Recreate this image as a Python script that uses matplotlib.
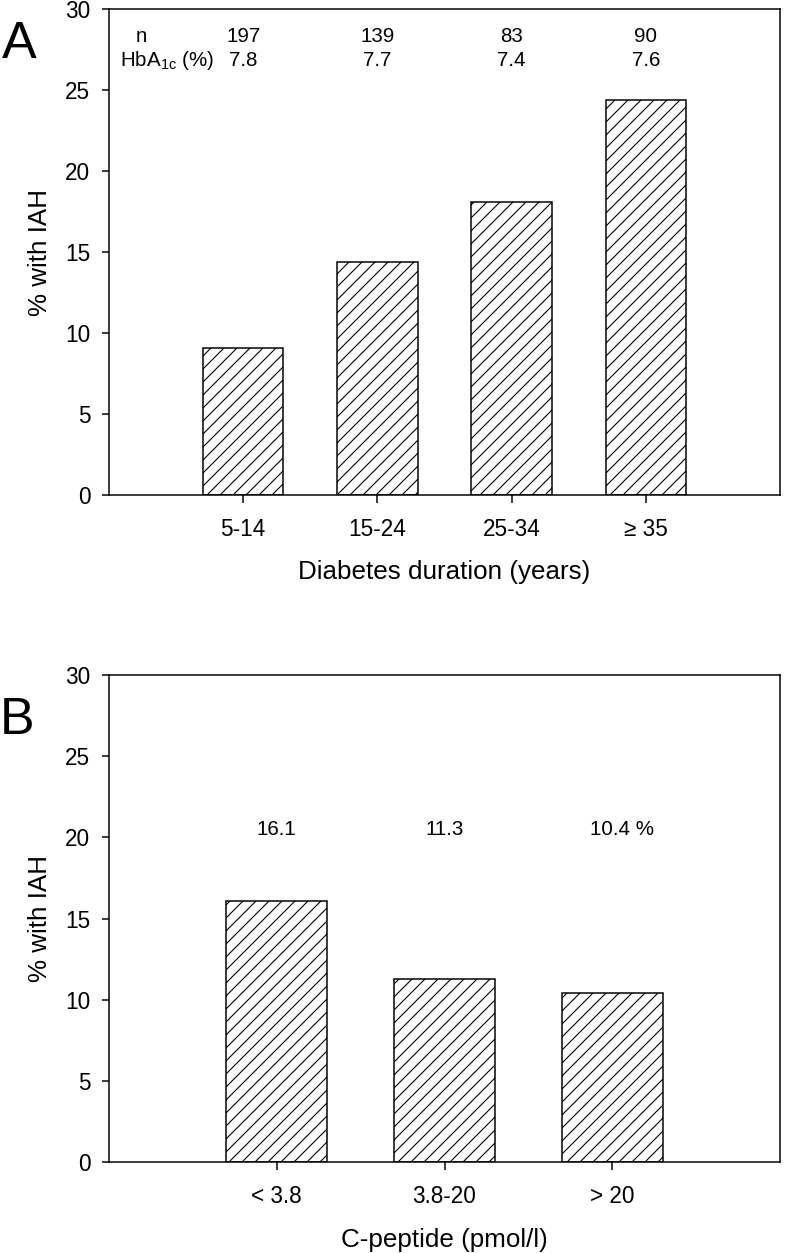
import matplotlib
matplotlib.use("Agg")
import matplotlib.pyplot as plt
import numpy as np

# panel A data
duration_cats = ["5-14", "15-24", "25-34", "\u2265 35"]
duration_iah = [9.1, 14.4, 18.1, 24.4]
duration_n = ["197", "139", "83", "90"]
duration_hba1c = ["7.8", "7.7", "7.4", "7.6"]

# panel B data
cpep_cats = ["< 3.8", "3.8-20", "> 20"]
cpep_iah = [16.1, 11.3, 10.4]
cpep_labels = ["16.1", "11.3", "10.4 %"]

DPI = 78  # low dpi so the hatch spacing matches the reference
W, H = 787, 1253


def pt(px):
    # convert pixels to points at this dpi
    return px * 72.0 / DPI


plt.rcParams['font.family'] = ['Liberation Sans', 'DejaVu Sans']
plt.rcParams['hatch.linewidth'] = pt(1.1)
plt.rcParams['hatch.color'] = 'black'

fig = plt.figure(figsize=(W / DPI, H / DPI), dpi=DPI)

tick_fs = pt(22.5)
note_fs = pt(20.5)
label_fs = pt(26)


def style_axes(ax, cats):
    ax.set_ylim(0, 30)
    ax.set_xlim(0, len(cats) + 1)
    ax.set_yticks(np.arange(0, 31, 5))
    ax.set_xticks(np.arange(1, len(cats) + 1))
    ax.set_xticklabels(cats)
    for s in ax.spines.values():
        s.set_linewidth(pt(1.5))
    ax.tick_params(axis='both', direction='out', length=pt(7.5), width=pt(1.5),
                   labelsize=tick_fs)
    ax.tick_params(axis='x', pad=pt(15))
    ax.tick_params(axis='y', pad=pt(11))
    ax.set_ylabel("% with IAH", fontsize=label_fs, labelpad=pt(13))


# ---- panel A ----
axA = fig.add_axes([109 / W, 1 - 495 / H, 671 / W, 486 / H])
xA = np.arange(1, len(duration_cats) + 1)
axA.bar(xA, duration_iah, width=0.6, color='white', edgecolor='black',
        linewidth=pt(1.5), hatch='//')
style_axes(axA, duration_cats)
axA.set_xlabel("Diabetes duration (years)", fontsize=label_fs, labelpad=pt(20))
axA.text(0.2, 28.3, "n", fontsize=note_fs, ha='left', va='center')
axA.text(0.08, 26.85, r"HbA$_{\mathregular{1c}}$ (%)", fontsize=note_fs,
         ha='left', va='center')
for x, n, h in zip(xA, duration_n, duration_hba1c):
    axA.text(x, 28.3, n, fontsize=note_fs, ha='center', va='center')
    axA.text(x, 26.85, h, fontsize=note_fs, ha='center', va='center')
fig.text(19 / W, 1 - 45 / H, "A", fontsize=pt(52), ha='center', va='center')

# ---- panel B ----
axB = fig.add_axes([109 / W, 1 - 1162 / H, 671 / W, 487 / H])
xB = np.arange(1, len(cpep_cats) + 1)
axB.bar(xB, cpep_iah, width=0.6, color='white', edgecolor='black',
        linewidth=pt(1.5), hatch='//')
style_axes(axB, cpep_cats)
axB.set_xlabel("C-peptide (pmol/l)", fontsize=label_fs, labelpad=pt(20))
for x, lab in zip(xB, cpep_labels):
    axB.text(x - 0.13 if lab.endswith('%') else x, 20.5, lab,
             fontsize=note_fs, ha='left' if lab.endswith('%') else 'center',
             va='center')
fig.text(17 / W, 1 - 720 / H, "B", fontsize=pt(52), ha='center', va='center')

fig.savefig("out.png", dpi=DPI)
